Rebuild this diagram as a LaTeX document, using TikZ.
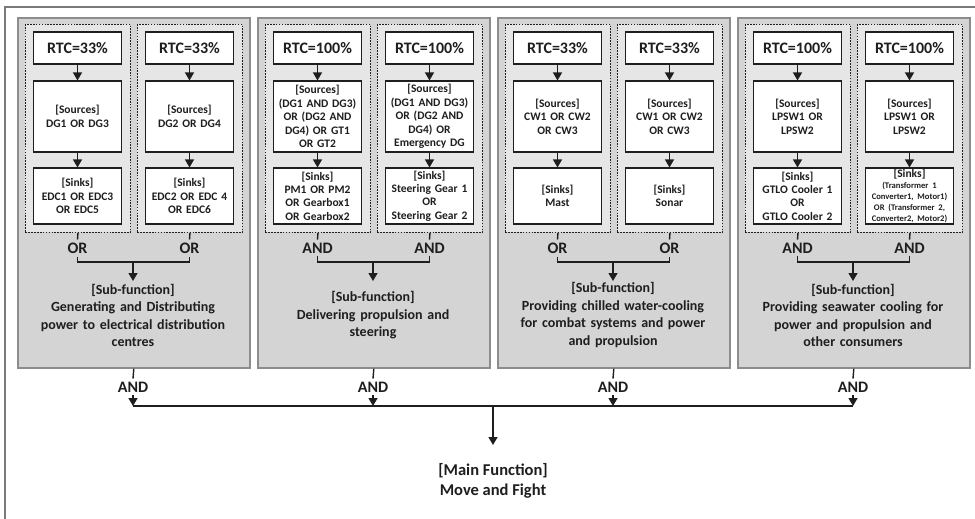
\documentclass[tikz,border=0pt]{standalone}
\usepackage{fontspec}
\setmainfont{Carlito}
\usetikzlibrary{arrows.meta}
\definecolor{panelgray}{HTML}{D4D4D4}
\definecolor{dotgray}{HTML}{E6E6E6}
\definecolor{edgegray}{HTML}{8C8C8C}
\definecolor{framegray}{HTML}{7A7A7A}
\definecolor{ink}{HTML}{1E1E1E}
\tikzset{
 panel/.style={draw=edgegray, line width=1.6pt, fill=panelgray, minimum width=232pt, minimum height=350pt, anchor=north west, inner sep=0pt},
 dotbox/.style={draw=ink, line width=0.9pt, dash pattern=on 1.6pt off 1.3pt, fill=dotgray, minimum width=105pt, minimum height=208pt, anchor=north west, inner sep=0pt},
 rtcbox/.style={draw=ink, line width=1.1pt, fill=white, minimum width=88pt, minimum height=32pt, font=\fontsize{16}{18}\selectfont\bfseries, text=ink, inner sep=0pt},
 srcbox/.style={draw=ink, line width=1.1pt, fill=white, minimum width=88pt, minimum height=71pt, text width=86pt, align=center, font=\fontsize{11.5}{13.4}\selectfont\bfseries, text=ink, inner sep=0pt},
 snkbox/.style={srcbox, minimum height=56pt},
 oplabel/.style={font=\fontsize{16}{18}\selectfont\bfseries, text=ink, inner sep=3pt},
 subtext/.style={text width=228pt, align=center, font=\fontsize{14}{17.5}\selectfont\bfseries, text=ink, minimum height=68pt, inner sep=0pt, anchor=north},
 mainfn/.style={align=center, font=\fontsize{16.5}{20}\selectfont\bfseries, text=ink, inner xsep=0pt, inner ysep=18pt, anchor=north},
 link/.style={draw=ink, line width=1.4pt},
 arr/.style={link, -{Triangle[length=8pt,width=9pt]}},
 framestyle/.style={draw=framegray, line width=1.5pt},
}
\newcommand\mkpanel[9]{%
 \node[panel] (#1p) at (#2,17) {};
 \node[dotbox] (#1d1) at (#2+8,24) {};
 \node[dotbox] (#1d2) at (#2+120,24) {};
 \node[rtcbox] (#1r1) at (#2+60.5,48) {#3};
 \node[rtcbox] (#1r2) at (#2+172.5,48) {#3};
 \node[srcbox] (#1s1) at (#2+60.5,116.5) {#4};
 \node[srcbox] (#1s2) at (#2+172.5,116.5) {#6};
 \node[snkbox] (#1k1) at (#2+60.5,196) {#5};
 \node[snkbox] (#1k2) at (#2+172.5,196) {#7};
 \draw[arr] (#1r1) -- (#1s1);
 \draw[arr] (#1r2) -- (#1s2);
 \draw[arr] (#1s1) -- (#1k1);
 \draw[arr] (#1s2) -- (#1k2);
 \node[oplabel] (#1o1) at (#2+60.5,248) {#8};
 \node[oplabel] (#1o2) at (#2+172.5,248) {#8};
 \coordinate (#1b) at (#2+116,262);
 \draw[link] (#1d1.south) -- (#1o1.north);
 \draw[link] (#1d2.south) -- (#1o2.north);
 \draw[link] (#1o1.south) |- (#1b) -| (#1o2.south);
 \node[subtext] (#1f) at (#2+116,281) {#9};
 \draw[arr] (#1b) -- (#1f.north);
 \node[oplabel] (#1a) at (#2+116,387) {AND};
 \coordinate (#1j) at (#2+116,406);
 \draw[link] (#1p.south) -- (#1a.north);
 \draw[arr] (#1a.south) -- (#1j);
}
\begin{document}
\begin{tikzpicture}[x=1pt,y=-1pt]
\useasboundingbox (0,0) rectangle (975,519);
\fill[white] (0,0) rectangle (975,519);
\draw[framestyle] (985,7) -- (5,7) -- (5,530);
\mkpanel{a}{17}{RTC=33\%}{[Sources]\\DG1 OR DG3}{[Sinks]\\EDC1 OR EDC3\\OR EDC5}{[Sources]\\DG2 OR DG4}{[Sinks]\\EDC2 OR EDC 4\\OR EDC6}{OR}{[Sub-function]\\Generating and Distributing\\power to electrical distribution\\centres}
\mkpanel{b}{257}{RTC=100\%}{[Sources]\\(DG1 AND DG3)\\OR (DG2 AND\\DG4) OR GT1\\OR GT2}{[Sinks]\\PM1 OR PM2\\OR Gearbox1\\OR Gearbox2}{[Sources]\\(DG1 AND DG3)\\OR (DG2 AND\\DG4) OR\\Emergency DG}{[Sinks]\\Steering Gear 1\\OR\\Steering Gear 2}{AND}{[Sub-function]\\Delivering propulsion and\\steering}
\mkpanel{c}{497}{RTC=33\%}{[Sources]\\CW1 OR CW2\\OR CW3}{[Sinks]\\Mast}{[Sources]\\CW1 OR CW2\\OR CW3}{[Sinks]\\Sonar}{OR}{[Sub-function]\\Providing chilled water-cooling\\for combat systems and power\\and propulsion}
\mkpanel{d}{737}{RTC=100\%}{[Sources]\\LPSW1 OR\\LPSW2}{[Sinks]\\GTLO Cooler 1\\OR\\GTLO Cooler 2}{[Sources]\\LPSW1 OR\\LPSW2}{[Sinks]\par{\fontsize{8.6}{11}\selectfont (Transformer 1\\Converter1, Motor1)\\OR (Transformer 2,\\Converter2, Motor2)\par}}{AND}{[Sub-function]\\Providing seawater cooling for\\power and propulsion and\\other consumers}
\draw[link] (aj) -- (dj);
\coordinate (jm) at (493,406);
\node[mainfn] (main) at (493,445) {[Main Function]\\Move and Fight};
\draw[arr] (jm) -- (main.north);
\end{tikzpicture}
\end{document}
